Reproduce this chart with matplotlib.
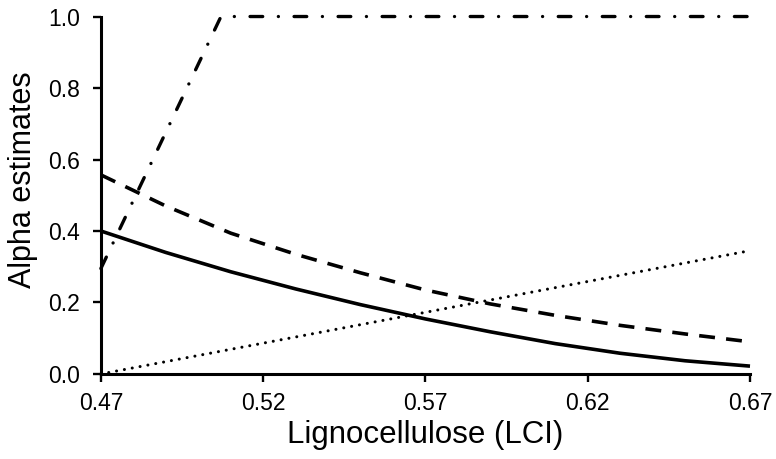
import matplotlib
matplotlib.use("Agg")
import matplotlib.pyplot as plt

plt.rcParams['font.family'] = ['Liberation Sans', 'DejaVu Sans']

# Data
x_vals = [0.47, 0.49, 0.51, 0.53, 0.55, 0.57, 0.59, 0.61, 0.63, 0.65, 0.67]
y_solid = [0.400, 0.340, 0.286, 0.238, 0.194, 0.154, 0.118, 0.085, 0.058, 0.037, 0.022]
y_dashed = [0.557, 0.470, 0.394, 0.335, 0.283, 0.235, 0.196, 0.164, 0.136, 0.112, 0.090]

x_dotted = [0.47, 0.67]
y_dotted = [0.000, 0.345]

x_dashdot = [0.47, 0.507, 0.67]
y_dashdot = [0.295, 1.000, 1.000]

xticks = [0.47, 0.52, 0.57, 0.62, 0.67]
yticks = [0.0, 0.2, 0.4, 0.6, 0.8, 1.0]

fig = plt.figure(figsize=(7.76, 4.59), dpi=100)
ax = fig.add_axes([0.130, 0.1852, 0.8365, 0.7788])

lw = 2.6
ax.plot(x_vals, y_solid, color='black', lw=lw, solid_capstyle='butt', clip_on=False)
ax.plot(x_vals, y_dashed, color='black', lw=lw, linestyle=(0, (4.4, 3.1)), clip_on=False)
ax.plot(x_dotted, y_dotted, color='black', lw=2.2, linestyle=(0, (0.01, 2.6)),
        dash_capstyle='round', clip_on=False)
ax.plot(x_dashdot, y_dashdot, color='black', lw=2.4,
        linestyle=(0, (3.8, 4.7, 0.01, 4.7)), dash_capstyle='round', clip_on=False)

ax.set_xlim(0.47, 0.67)
ax.set_ylim(0.0, 1.0)
ax.set_xticks(xticks)
ax.set_xticklabels([f"{t:.2f}" for t in xticks])
ax.set_yticks(yticks)
ax.set_yticklabels([f"{t:.1f}" for t in yticks])

for s in ['top', 'right']:
    ax.spines[s].set_visible(False)
for s in ['left', 'bottom']:
    ax.spines[s].set_linewidth(2.2)

ax.tick_params(axis='both', direction='out', length=6, width=1.7, labelsize=16.5, colors='black')
ax.tick_params(axis='x', pad=7)
ax.tick_params(axis='y', pad=9)

ax.set_xlabel('Lignocellulose (LCI)', fontsize=22.5)
ax.set_ylabel('Alpha estimates', fontsize=22)
ax.xaxis.set_label_coords(0.5, -0.128)
ax.yaxis.set_label_coords(-0.097, 0.543)

fig.savefig('out.png', dpi=100)
